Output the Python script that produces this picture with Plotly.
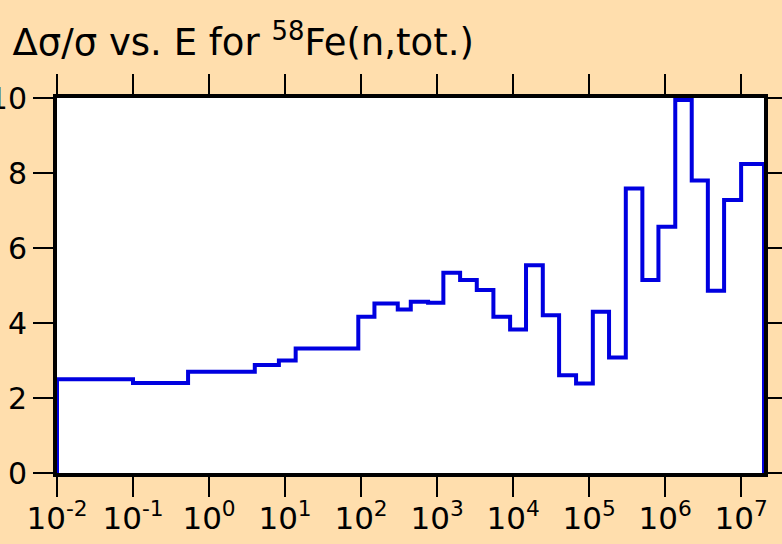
import plotly.graph_objects as go

# Energy group boundaries (eV) and relative uncertainty values (%)
edges = [1e-2, 0.1, 0.53, 4.0, 8.3, 13.8, 92, 150, 304, 451, 762, 1210, 2010,
         3330, 5510, 9140, 14800, 24600, 40300, 67400, 112000, 183000, 304000,
         502000, 817000, 1.36e6, 2.24e6, 3.65e6, 5.97e6, 1e7, 2e7]
values = [2.5, 2.4, 2.7, 2.88, 3.0, 3.32, 4.17, 4.52, 4.36, 4.57, 4.54, 5.34,
          5.15, 4.88, 4.17, 3.83, 5.54, 4.21, 2.61, 2.39, 4.30, 3.08, 7.59,
          5.15, 6.57, 9.95, 7.8, 4.86, 7.28, 8.24]

x_tickvals = [1e-2, 1e-1, 1e0, 1e1, 1e2, 1e3, 1e4, 1e5, 1e6, 1e7]
x_ticktext = ["10<sup>-2</sup>", "10<sup>-1</sup>", "10<sup>0</sup>", "10<sup>1</sup>",
              "10<sup>2</sup>", "10<sup>3</sup>", "10<sup>4</sup>", "10<sup>5</sup>",
              "10<sup>6</sup>", "10<sup>7</sup>"]
y_tickvals = [0, 2, 4, 6, 8, 10]

xs = [edges[0]] + edges + [edges[-1]]
ys = [0] + values + [values[-1], 0]

fig = go.Figure()
fig.add_trace(go.Scatter(x=xs, y=ys, mode="lines", line_shape="hv",
                         line=dict(color="#0000e0", width=4),
                         showlegend=False, hoverinfo="skip"))

font = "DejaVu Sans"
fig.update_layout(
    width=782, height=544,
    paper_bgcolor="#FFDEAD", plot_bgcolor="white",
    margin=dict(l=57, r=18, t=98, b=71),
    title=dict(text="Δσ/σ vs. E for <sup>58</sup>Fe(n,tot.)",
               x=0.016, xanchor="left", y=0.922, yanchor="middle",
               font=dict(family=font, size=37, color="black")),
    font=dict(family=font, color="black"),
)
fig.update_xaxes(type="log", range=[-2, 7.301], tickvals=x_tickvals, ticktext=x_ticktext,
                 ticks="outside", ticklen=20, tickwidth=2, tickcolor="black",
                 showline=True, linewidth=4, linecolor="black", mirror="ticks",
                 showgrid=False, zeroline=False, automargin=False,
                 ticklabelstandoff=-5,
                 tickfont=dict(family=font, size=31, color="black"))
fig.update_yaxes(range=[0, 10], tickvals=y_tickvals,
                 ticks="outside", ticklen=20, tickwidth=2, tickcolor="black",
                 showline=True, linewidth=4, linecolor="black", mirror="ticks",
                 showgrid=False, zeroline=False, automargin=False,
                 tickfont=dict(family=font, size=30, color="black"))

fig.write_html("out.html", config={"displayModeBar": False},
               post_script="document.body.style.margin='0';document.body.style.padding='0';")
